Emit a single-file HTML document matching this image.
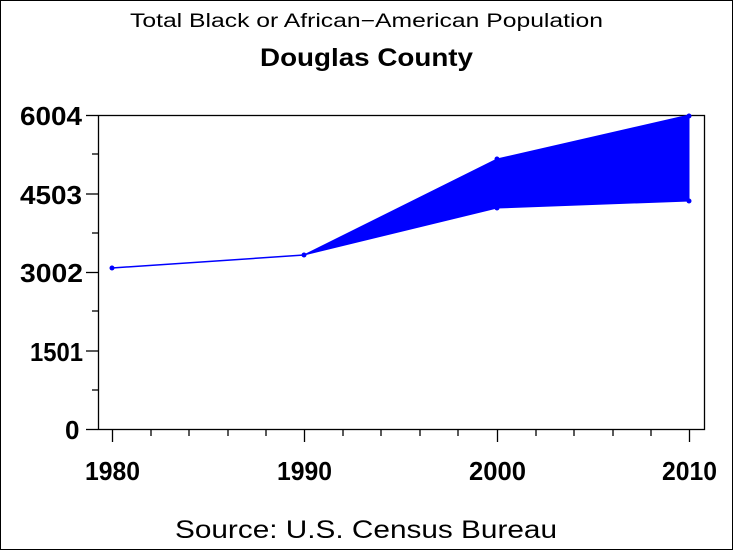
<!DOCTYPE html>
<html><head><meta charset="utf-8"><style>
html,body{margin:0;padding:0;background:#fff}
svg{display:block}
text{font-family:"Liberation Sans",sans-serif;fill:#000}
</style></head><body>
<svg width="733" height="550" viewBox="0 0 733 550">
<rect x="0.5" y="0.5" width="732" height="549" fill="#fff" stroke="#000"/>
<text x="130" y="27" font-size="19" textLength="473" lengthAdjust="spacingAndGlyphs">Total Black or African−American Population</text>
<text x="260" y="66" font-size="25" font-weight="bold" textLength="213" lengthAdjust="spacingAndGlyphs">Douglas County</text>
<rect x="98.5" y="115.5" width="606" height="314" fill="none" stroke="#000" stroke-width="1.3"/>
<g stroke="#000" stroke-width="1.3">
<line x1="86" y1="115.5" x2="98" y2="115.5"/><line x1="86" y1="194" x2="98" y2="194"/><line x1="86" y1="272.5" x2="98" y2="272.5"/><line x1="86" y1="351" x2="98" y2="351"/><line x1="86" y1="429.5" x2="98" y2="429.5"/>
<line x1="92" y1="154" x2="98" y2="154"/><line x1="92" y1="233" x2="98" y2="233"/><line x1="92" y1="311" x2="98" y2="311"/><line x1="92" y1="390" x2="98" y2="390"/>
<line x1="112.5" y1="430" x2="112.5" y2="442"/><line x1="304.5" y1="430" x2="304.5" y2="442"/><line x1="497.5" y1="430" x2="497.5" y2="442"/><line x1="689.5" y1="430" x2="689.5" y2="442"/>
<line x1="151" y1="430" x2="151" y2="436"/><line x1="189" y1="430" x2="189" y2="436"/><line x1="228" y1="430" x2="228" y2="436"/><line x1="266" y1="430" x2="266" y2="436"/>
<line x1="343" y1="430" x2="343" y2="436"/><line x1="381" y1="430" x2="381" y2="436"/><line x1="420" y1="430" x2="420" y2="436"/><line x1="458" y1="430" x2="458" y2="436"/>
<line x1="536" y1="430" x2="536" y2="436"/><line x1="574" y1="430" x2="574" y2="436"/><line x1="613" y1="430" x2="613" y2="436"/><line x1="651" y1="430" x2="651" y2="436"/>
</g>
<g font-size="26" font-weight="bold">
<text x="20" y="125" textLength="62" lengthAdjust="spacingAndGlyphs">6004</text>
<text x="20" y="204" textLength="62" lengthAdjust="spacingAndGlyphs">4503</text>
<text x="20" y="282" textLength="63" lengthAdjust="spacingAndGlyphs">3002</text>
<text x="30" y="361" textLength="53" lengthAdjust="spacingAndGlyphs">1501</text>
<text x="65" y="439">0</text>
</g>
<g font-size="26" font-weight="bold">
<text x="85" y="480" textLength="55" lengthAdjust="spacingAndGlyphs">1980</text>
<text x="277" y="480" textLength="55" lengthAdjust="spacingAndGlyphs">1990</text>
<text x="469" y="480" textLength="57" lengthAdjust="spacingAndGlyphs">2000</text>
<text x="662" y="480" textLength="55" lengthAdjust="spacingAndGlyphs">2010</text>
</g>
<polygon points="304,255 497,159 689,115 689,201 497,208" fill="#0000ff" stroke="#0000ff"/>
<polyline points="112,268 304,255" fill="none" stroke="#0000ff" stroke-width="1.5"/>
<g fill="#0000ff"><circle cx="112" cy="268" r="2.5"/><circle cx="304" cy="255" r="2.5"/><circle cx="497" cy="159" r="2.5"/><circle cx="497" cy="208" r="2.5"/><circle cx="689" cy="116" r="2.5"/><circle cx="689" cy="201" r="2.5"/></g>
<text x="175" y="538" font-size="25" textLength="382" lengthAdjust="spacingAndGlyphs">Source: U.S. Census Bureau</text>
</svg>
</body></html>
